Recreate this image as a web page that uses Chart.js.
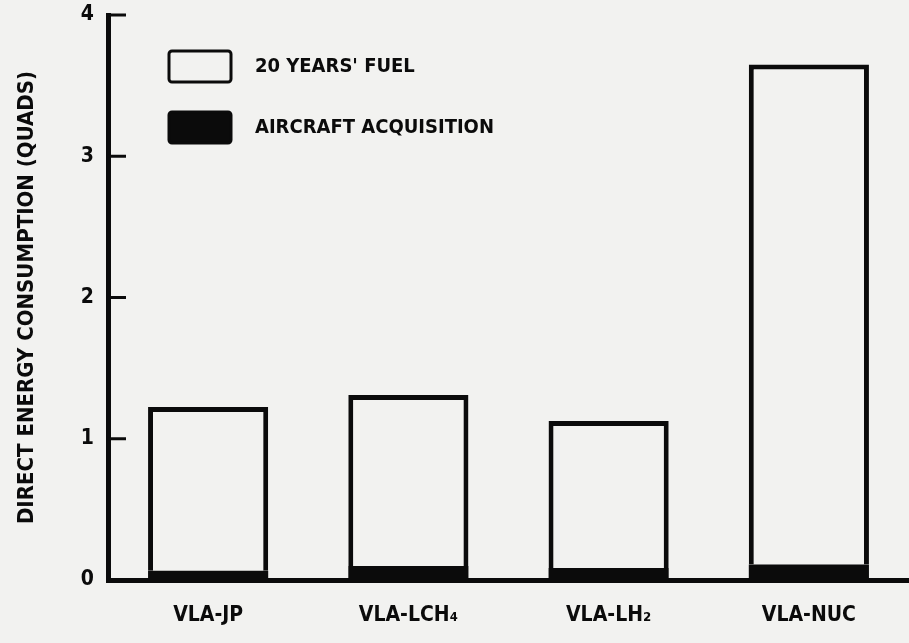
<!DOCTYPE html>
<html>
<head>
<meta charset="utf-8">
<script src="https://cdn.jsdelivr.net/npm/chart.js@4.4.1/dist/chart.umd.min.js"></script>
<style>
  html, body { margin: 0; padding: 0; background: #f2f2f0; }
  #wrap { width: 909px; height: 643px; position: relative; }
</style>
</head>
<body>
<div id="wrap"><canvas id="chart"></canvas></div>
<script>
const aircraftLabels = ['VLA-JP', 'VLA-LCH\u2084', 'VLA-LH\u2082', 'VLA-NUC'];
const acquisitionValues = [0.065, 0.10, 0.085, 0.11];
const fuelValues = [1.16, 1.21, 1.04, 3.54];
const yTickValues = [0, 1, 2, 3, 4];

const paper = '#f2f2f0';
const ink = '#0b0b0b';
const fontFamily = '"DejaVu Sans Condensed", "DejaVu Sans", sans-serif';

// legend drawn inside the plot area, upper left
const insideLegend = {
    id: 'insideLegend',
    afterDraw(chart) {
        const ctx = chart.ctx;
        const area = chart.chartArea;
        const x0 = area.left + 61;
        ctx.save();
        ctx.font = 'bold 20px ' + fontFamily;
        ctx.textBaseline = 'middle';
        chart.data.datasets.slice().reverse().forEach((ds, i) => {
            const top = area.top + 36 + i * 61;
            ctx.beginPath();
            ctx.roundRect(x0, top, 62, 31, 3);
            ctx.fillStyle = ds.legendFill;
            ctx.fill();
            ctx.lineWidth = 3;
            ctx.strokeStyle = ink;
            ctx.stroke();
            ctx.fillStyle = ink;
            ctx.fillText(ds.label, x0 + 86, top + 16);
        });
        ctx.restore();
    }
};

// short tick marks pointing into the plot from the y axis
const innerTicks = {
    id: 'innerTicks',
    afterDraw(chart) {
        const ctx = chart.ctx;
        const y = chart.scales.y;
        ctx.save();
        ctx.strokeStyle = ink;
        ctx.lineWidth = 3;
        yTickValues.forEach(v => {
            if (v === 0) return;
            const py = y.getPixelForValue(v);
            ctx.beginPath();
            ctx.moveTo(y.right, py);
            ctx.lineTo(y.right + 18, py);
            ctx.stroke();
        });
        ctx.restore();
    }
};

new Chart(document.getElementById('chart'), {
    type: 'bar',
    data: {
        labels: aircraftLabels,
        datasets: [
            {
                label: 'AIRCRAFT ACQUISITION',
                data: acquisitionValues,
                backgroundColor: ink,
                borderWidth: 0,
                legendFill: ink
            },
            {
                label: "20 YEARS' FUEL",
                data: fuelValues,
                backgroundColor: paper,
                borderColor: ink,
                borderWidth: 5,
                borderSkipped: 'start',
                legendFill: paper
            }
        ]
    },
    options: {
        responsive: true,
        maintainAspectRatio: false,
        animation: false,
        layout: { padding: { top: 15, right: 0, bottom: 0, left: 0 } },
        datasets: { bar: { barPercentage: 0.6, categoryPercentage: 1 } },
        plugins: {
            legend: { display: false },
            tooltip: { enabled: false }
        },
        scales: {
            x: {
                stacked: true,
                grid: { display: false, drawTicks: false },
                border: { display: true, color: ink, width: 5 },
                ticks: {
                    color: ink,
                    padding: 23,
                    font: { family: fontFamily, size: 21, weight: 'bold' }
                },
                afterFit(scale) {
                    scale.height = 63;
                    scale.paddingLeft = 0;
                    scale.paddingRight = 0;
                }
            },
            y: {
                stacked: true,
                min: 0,
                max: 4,
                afterBuildTicks(scale) {
                    scale.ticks = yTickValues.map(v => ({ value: v }));
                },
                grid: { display: false, drawTicks: false },
                border: { display: true, color: ink, width: 5 },
                ticks: {
                    color: ink,
                    padding: 14,
                    font: { family: fontFamily, size: 21, weight: 'bold' }
                },
                title: {
                    display: true,
                    text: 'DIRECT ENERGY CONSUMPTION (QUADS)',
                    color: ink,
                    padding: { top: 14, bottom: 0 },
                    font: { family: fontFamily, size: 22, weight: 'bold' }
                },
                afterFit(scale) {
                    scale.width = 108;
                    scale.paddingTop = 0;
                    scale.paddingBottom = 0;
                }
            }
        }
    },
    plugins: [insideLegend, innerTicks]
});
</script>
</body>
</html>
